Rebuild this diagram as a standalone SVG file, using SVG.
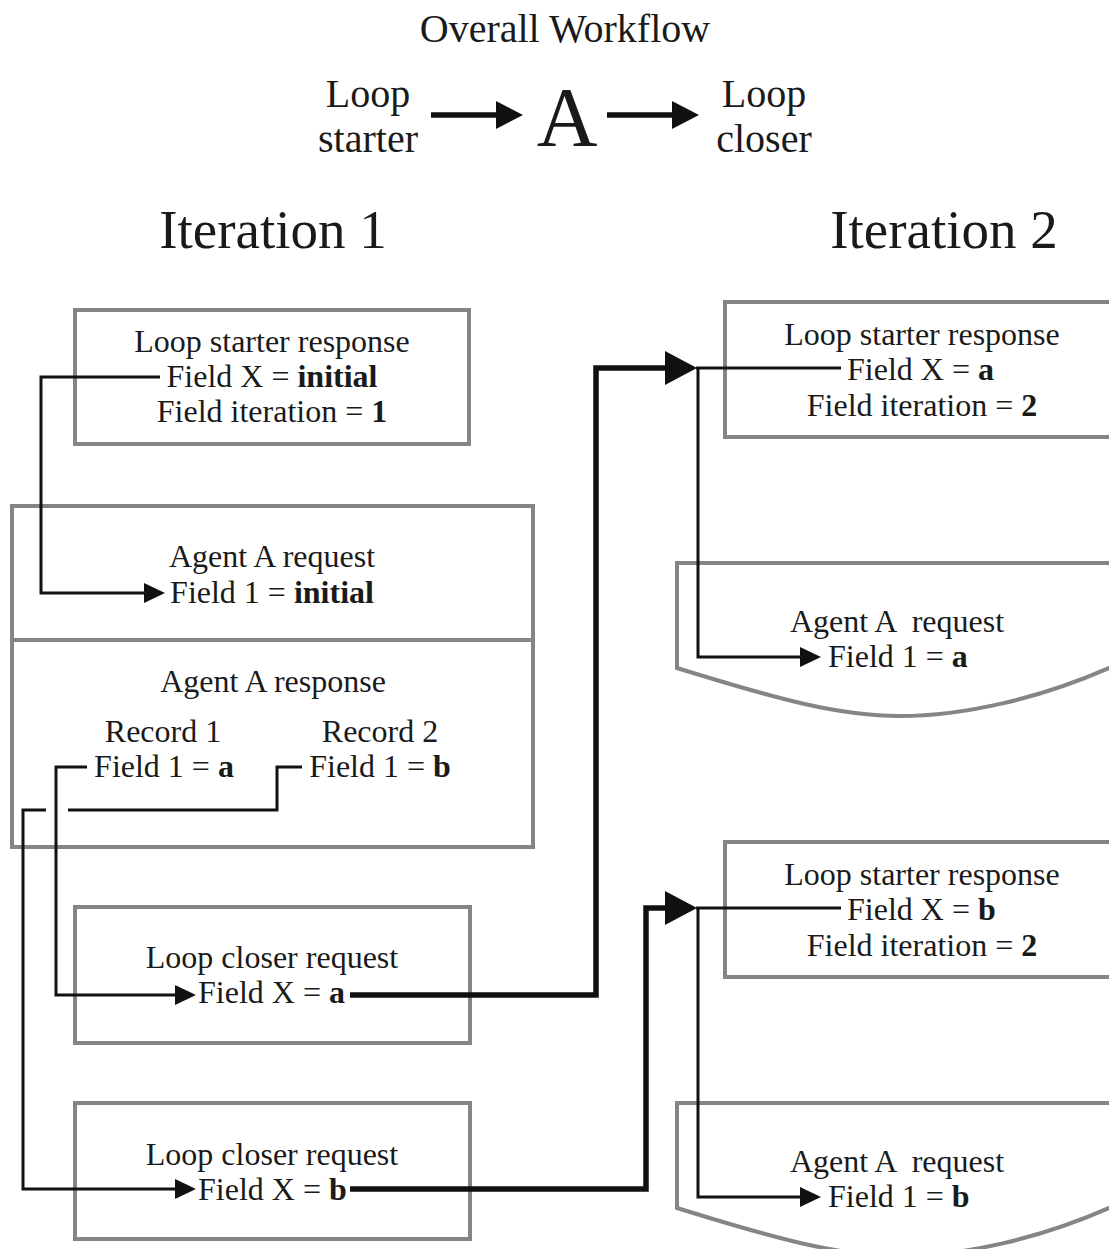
<svg xmlns="http://www.w3.org/2000/svg" width="1109" height="1249" viewBox="0 0 1109 1249">
  <defs>
    <style>
      text { font-family: "Liberation Serif", "Times New Roman", serif; fill: #1a1a1a; }
      .t { font-size: 32px; text-anchor: middle; }
      .s { font-size: 32px; text-anchor: start; }
      .pre { white-space: pre; }
      .b { font-weight: bold; }
      .head { font-size: 40px; text-anchor: middle; }
      .iter { font-size: 55px; text-anchor: middle; }
      .box { fill: #ffffff; stroke: #858585; stroke-width: 4; }
      .thin { fill: none; stroke: #111111; stroke-width: 3; }
      .thick { fill: none; stroke: #111111; stroke-width: 5.5; }
    </style>
    <marker id="arrow-small" markerUnits="userSpaceOnUse" markerWidth="22" markerHeight="22" refX="0" refY="10" orient="auto">
      <path d="M0,0 L21,10 L0,20 z" fill="#111111"/>
    </marker>
    <marker id="arrow-big" markerUnits="userSpaceOnUse" markerWidth="34" markerHeight="36" refX="0" refY="17" orient="auto">
      <path d="M0,0 L32,17 L0,34 z" fill="#111111"/>
    </marker>
    <marker id="arrow-top" markerUnits="userSpaceOnUse" markerWidth="28" markerHeight="30" refX="0" refY="14" orient="auto">
      <path d="M0,0 L27,14 L0,28 z" fill="#111111"/>
    </marker>
  </defs>

  <rect width="1109" height="1249" fill="#ffffff"/>

  <!-- Overall workflow header -->
  <g id="header">
    <text x="565" y="42" style="font-size:40px;text-anchor:middle">Overall Workflow</text>
    <text class="head" x="368" y="107">Loop</text>
    <text class="head" x="368" y="152">starter</text>
    <text x="567" y="146" style="font-size:84px;text-anchor:middle">A</text>
    <text class="head" x="764" y="107">Loop</text>
    <text class="head" x="764" y="152">closer</text>
    <path class="thick" d="M431,115 H496" marker-end="url(#arrow-top)"/>
    <path class="thick" d="M607,115 H672" marker-end="url(#arrow-top)"/>
  </g>

  <text class="iter" x="273" y="248">Iteration 1</text>
  <text class="iter" x="944" y="248">Iteration 2</text>

  <!-- Iteration 1 -->
  <g id="it1-starter-response">
    <rect class="box" x="75" y="310" width="394" height="134"/>
    <text class="t" x="272" y="352">Loop starter response</text>
    <text class="t" x="272" y="387">Field X = <tspan class="b">initial</tspan></text>
    <text class="t" x="272" y="422">Field iteration = <tspan class="b">1</tspan></text>
  </g>

  <g id="it1-agent-a">
    <rect class="box" x="12" y="506" width="521" height="341"/>
    <line x1="12" y1="640" x2="533" y2="640" stroke="#858585" stroke-width="4"/>
    <text class="t" x="272" y="567">Agent A request</text>
    <text class="t" x="272" y="603">Field 1 = <tspan class="b">initial</tspan></text>
    <text class="t" x="273" y="692">Agent A response</text>
    <text class="t" x="163" y="742">Record 1</text>
    <text class="t" x="380" y="742">Record 2</text>
    <text class="t" x="164" y="777">Field 1 = <tspan class="b">a</tspan></text>
    <text class="t" x="380" y="777">Field 1 = <tspan class="b">b</tspan></text>
  </g>

  <g id="it1-closer-request-a">
    <rect class="box" x="75" y="907" width="395" height="136"/>
    <text class="t" x="272" y="968">Loop closer request</text>
    <text class="s" x="198" y="1003">Field X = <tspan class="b">a</tspan></text>
  </g>

  <g id="it1-closer-request-b">
    <rect class="box" x="75" y="1103" width="395" height="136"/>
    <text class="t" x="272" y="1165">Loop closer request</text>
    <text class="s" x="198" y="1200">Field X = <tspan class="b">b</tspan></text>
  </g>

  <!-- Iteration 2 -->
  <g id="it2-starter-response-a">
    <rect class="box" x="725" y="302" width="400" height="135"/>
    <text class="t" x="922" y="345">Loop starter response</text>
    <text class="s" x="847" y="380">Field X = <tspan class="b">a</tspan></text>
    <text class="t" x="922" y="416">Field iteration = <tspan class="b">2</tspan></text>
  </g>

  <g id="it2-agent-request-a">
    <path class="box" d="M1120,563 H677 V668 C780,700 840,716 900,716 S1040,700 1120,663"/>
    <text class="t pre" x="897" y="632">Agent A  request</text>
    <text class="s" x="828" y="667">Field 1 = <tspan class="b">a</tspan></text>
  </g>

  <g id="it2-starter-response-b">
    <rect class="box" x="725" y="842" width="400" height="135"/>
    <text class="t" x="922" y="885">Loop starter response</text>
    <text class="s" x="847" y="920">Field X = <tspan class="b">b</tspan></text>
    <text class="t" x="922" y="956">Field iteration = <tspan class="b">2</tspan></text>
  </g>

  <g id="it2-agent-request-b">
    <path class="box" d="M1120,1103 H677 V1208 C780,1240 840,1256 900,1256 S1040,1240 1120,1203"/>
    <text class="t pre" x="897" y="1172">Agent A  request</text>
    <text class="s" x="828" y="1207">Field 1 = <tspan class="b">b</tspan></text>
  </g>

  <!-- Connectors -->
  <g id="connectors">
    <path class="thin" d="M160,377 H41 V593 H144" marker-end="url(#arrow-small)"/>
    <path class="thin" d="M87,767 H56 V995 H175" marker-end="url(#arrow-small)"/>
    <path class="thin" d="M302,767 H277 V810 H68"/>
    <path class="thin" d="M46,810 H23 V1189 H175" marker-end="url(#arrow-small)"/>
    <path class="thick" d="M350,995 H596 V368 H665" marker-end="url(#arrow-big)"/>
    <path class="thin" d="M696,368 H841"/>
    <path class="thin" d="M698,368 V657 H800" marker-end="url(#arrow-small)"/>
    <path class="thick" d="M350,1189 H646 V908 H665" marker-end="url(#arrow-big)"/>
    <path class="thin" d="M696,908 H841"/>
    <path class="thin" d="M698,908 V1197 H800" marker-end="url(#arrow-small)"/>
  </g>
</svg>
